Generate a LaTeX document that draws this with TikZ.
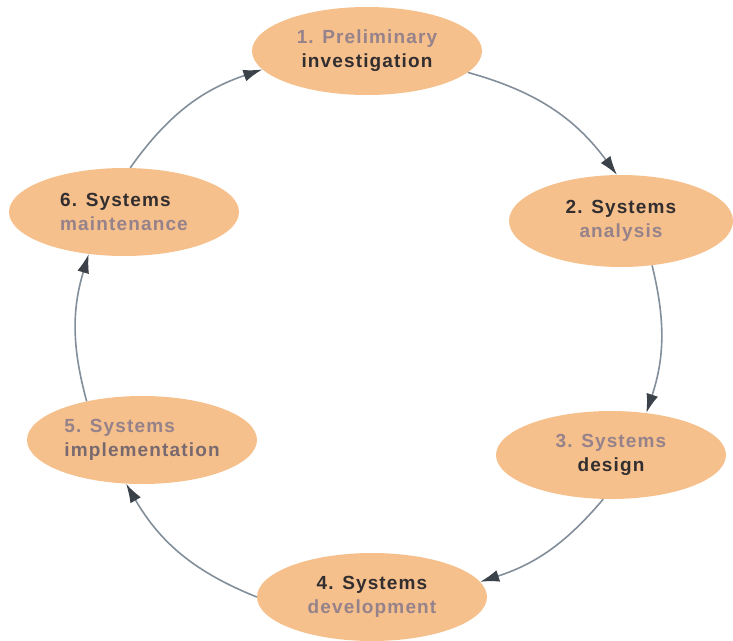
\documentclass[tikz,border=0pt]{standalone}
\usepackage{fontspec}
\newfontfamily\stagefont[LetterSpace=6]{Liberation Sans}
\usetikzlibrary{shapes.geometric,arrows.meta}
\definecolor{peach}{RGB}{246,192,140}
\definecolor{txtdark}{RGB}{50,46,48}
\definecolor{txtmuted}{RGB}{150,130,138}
\definecolor{flow}{RGB}{130,142,154}
\definecolor{flowtip}{RGB}{60,66,74}
\begin{document}
\begin{tikzpicture}[x=1pt, y=-1pt,
    stage/.style={ellipse, fill=peach, text=txtdark, inner sep=0pt,
        minimum width=230pt, minimum height=88pt, align=center,
        font=\stagefont\bfseries\fontsize{19}{24}\selectfont},
    flowarrow/.style={-{Latex[length=19pt,width=12pt,color=flowtip]},
        draw=flow, line width=1.6pt, bend left=#1}]
        \useasboundingbox (0, 0) rectangle (733, 640);
        % the six stages round the cycle
        \draw (367, 51) node[stage](s1){\textcolor{txtmuted}{1. Preliminary}\\investigation}
        (621, 221) node[stage, minimum width=224pt, minimum height=92pt](s2){2. Systems\\\textcolor{txtmuted}{analysis}}
        (611, 455) node[stage](s3){\textcolor{txtmuted}{3. Systems}\\design}
        (372, 597) node[stage](s4){4. Systems\\\textcolor{txtmuted}{development}}
        (142, 440) node[stage, align=left](s5){\textcolor{txtmuted}{5. Systems}\\\textcolor{txtmuted!70!txtdark}{implementation}}
        (124, 212) node[stage, align=left](s6){6. Systems\\\textcolor{txtmuted}{maintenance}};
        % arrows between them
        \draw[flowarrow=19] (s1.-12) to (s2.95);
        \draw[flowarrow=16] (s2.-55) to (s3.50);
        \draw[flowarrow=16] (s3.-100) to (s4.8);
        \draw[flowarrow=19] (s4.180) to (s5.-110);
        \draw[flowarrow=16] (s5.145) to (s6.-130);
        \draw[flowarrow=18] (s6.82) to (s1.190);
    \end{tikzpicture}
\end{document}
